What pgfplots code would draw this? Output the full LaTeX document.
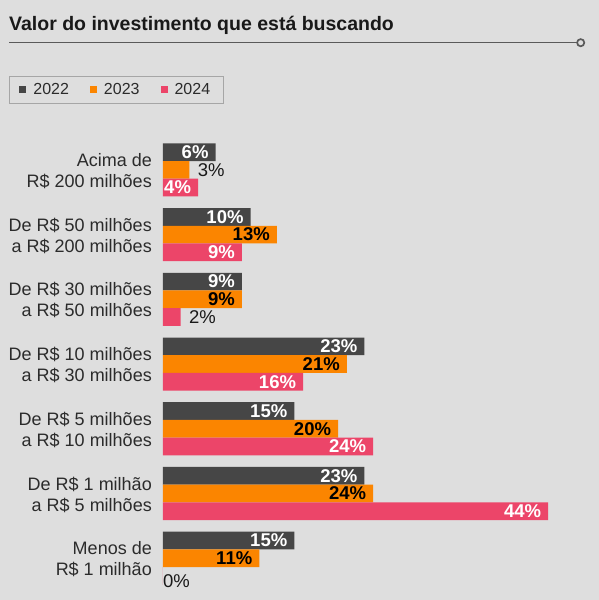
\documentclass[border=0pt]{standalone}
\usepackage{fontspec}
\setmainfont{Liberation Sans}
\usepackage{pgfplots}
\pgfplotsset{compat=1.18}

\definecolor{bg}{HTML}{DEDEDE}
\definecolor{c22}{HTML}{464646}
\definecolor{c23}{HTML}{FB8500}
\definecolor{c24}{HTML}{EC4569}
\definecolor{txt}{HTML}{2B2B2B}
\definecolor{rulec}{HTML}{5A5A5A}

\pgfplotsset{
  vallabel/.style={
    forget plot, draw=none, fill=none,
    point meta=x,
    nodes near coords={\pgfmathprintnumber[assume math mode=true]{\pgfplotspointmeta}\%},
  },
  inlabel/.style={vallabel,
    every node near coord/.append style={anchor=east, text=#1, xshift=-3.5pt,
      font=\bfseries\fontsize{18.5}{20}\selectfont}},
  outlabel/.style={vallabel,
    every node near coord/.append style={anchor=west, text=black!90, xshift=5pt,
      font=\fontsize{18.5}{20}\selectfont}},
}

\begin{document}
\begin{tikzpicture}[x=1pt,y=1pt]
\fill[bg] (0,0) rectangle (599,-600);
\node[anchor=base west, inner sep=0pt, text=black!90,
      font=\bfseries\fontsize{19.5}{22}\selectfont] at (9,-30)
      {Valor do investimento que está buscando};
\draw[rulec, line width=1.3pt] (9,-42.7) -- (577,-42.7);
\draw[rulec, line width=1.7pt, fill=bg] (580.7,-42.7) circle (3.6);

\begin{axis}[
  at={(163pt,-590.6pt)}, anchor=south west,
  scale only axis, width=400pt, height=453.1pt,
  xmin=0, xmax=45.7, ymin=-0.5, ymax=6.5,
  xbar, bar width=17.7pt,
  axis line style={draw=none},
  xtick=\empty, ytick={0,...,6}, major tick length=0pt,
  yticklabels={{Menos de\\R\$ 1 milhão},
               {De R\$ 1 milhão\\a R\$ 5 milhões},
               {De R\$ 5 milhões\\a R\$ 10 milhões},
               {De R\$ 10 milhões\\a R\$ 30 milhões},
               {De R\$ 30 milhões\\a R\$ 50 milhões},
               {De R\$ 50 milhões\\a R\$ 200 milhões},
               {Acima de\\R\$ 200 milhões}},
  yticklabel style={align=right, anchor=east, inner sep=0pt, xshift=-11pt,
                    yshift=-1pt, text=txt, font=\fontsize{18}{21}\selectfont},
  clip=false,
  legend image code/.code={\fill[#1] (0pt,-3.5pt) rectangle (7pt,3.5pt);},
  legend columns=3,
  legend style={at={(-0.385,1.1357)}, anchor=north west,
    draw=black!35, line width=0.8pt, fill=none,
    inner xsep=10pt, inner ysep=7pt,
    font=\fontsize{16}{18}\selectfont, text=txt,
    nodes={inner sep=0pt},
    /tikz/every odd column/.append style={column sep=7pt},
    /tikz/every even column/.append style={column sep=21pt}},
]
% bars, one series per year
\addplot[fill=c22, draw=none, bar shift=17.7pt]
  coordinates {(15,0) (23,1) (15,2) (23,3) (9,4) (10,5) (6,6)};
\addlegendentry{2022}
\addplot[fill=c23, draw=none, bar shift=0pt]
  coordinates {(11,0) (24,1) (20,2) (21,3) (9,4) (13,5) (3,6)};
\addlegendentry{2023}
\addplot[fill=c24, draw=none, bar shift=-17.7pt]
  coordinates {(0,0) (44,1) (24,2) (16,3) (2,4) (9,5) (4,6)};
\addlegendentry{2024\hspace*{3pt}}

% value labels
\addplot[inlabel=white, bar shift=17.7pt]
  coordinates {(15,0) (23,1) (15,2) (23,3) (9,4) (10,5) (6,6)};
\addplot[inlabel=black, bar shift=0pt]
  coordinates {(11,0) (24,1) (20,2) (21,3) (9,4) (13,5)};
\addplot[outlabel, bar shift=0pt]
  coordinates {(3,6)};
\addplot[inlabel=white, bar shift=-17.7pt]
  coordinates {(44,1) (24,2) (16,3) (9,5) (4,6)};
\addplot[outlabel, bar shift=-17.7pt]
  coordinates {(2,4)};
\addplot[outlabel, bar shift=-17.7pt,
  every node near coord/.append style={xshift=-8.5pt, yshift=-5pt}]
  coordinates {(0,0)};
\end{axis}
\end{tikzpicture}
\end{document}
